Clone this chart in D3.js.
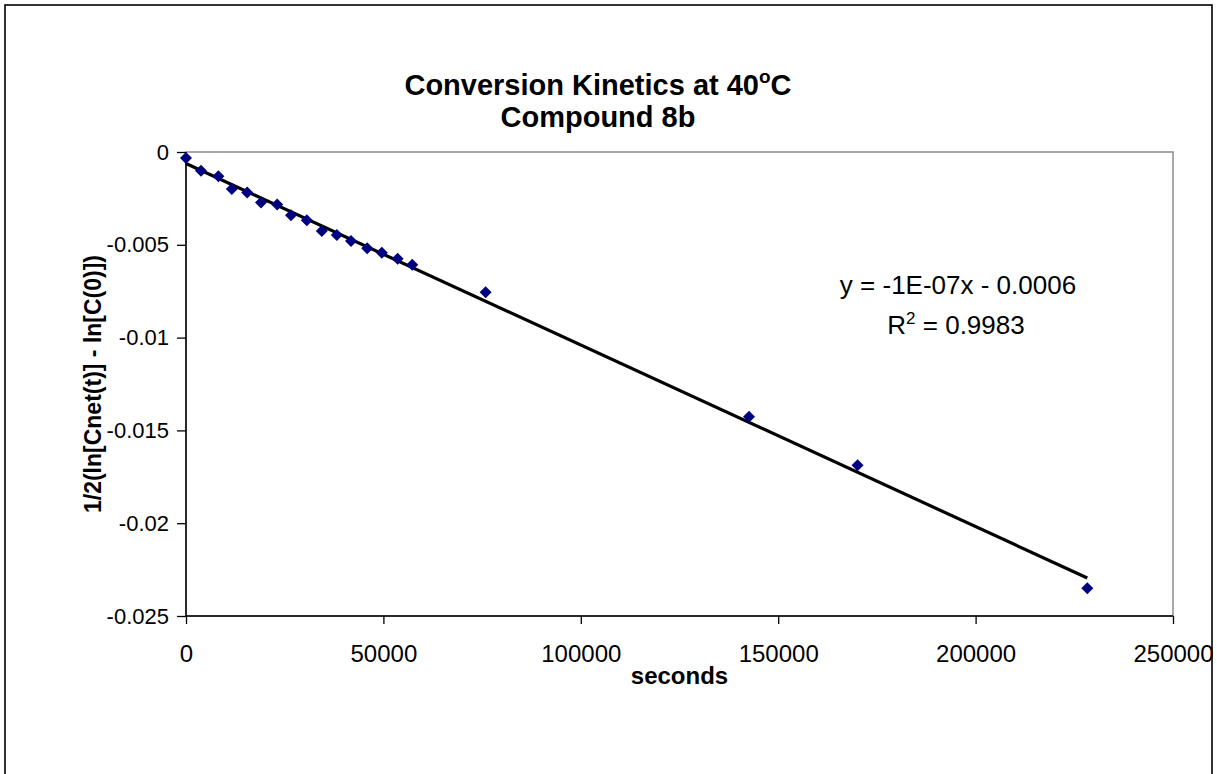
<!DOCTYPE html>
<html>
<head>
<meta charset="utf-8">
<script src="https://cdn.jsdelivr.net/npm/d3@7"></script>
<style>
  body { margin: 0; background: #fff; }
  text { font-family: "Liberation Sans", Arial, sans-serif; fill: #000; }
  .axisX .tick text { font-size: 24px; }
  .axisY .tick text { font-size: 22px; }
  .axisX path, .axisY path { display: none; }
  .tick line { stroke: #000; stroke-width: 1.3; }
</style>
</head>
<body>
<script>
var seconds = [0, 3800, 8200, 11600, 15500, 19000, 23100, 26600, 30600, 34400,
               38200, 41800, 45900, 49600, 53600, 57300, 75900, 142600, 170100, 228300];
var halfLnRatio = [-0.00033, -0.00101, -0.00131, -0.00200, -0.00218, -0.00272, -0.00283,
                   -0.00341, -0.00368, -0.00426, -0.00447, -0.00480, -0.00518, -0.00543,
                   -0.00575, -0.00608, -0.00756, -0.01427, -0.01688, -0.02350];
var xTicks = [0, 50000, 100000, 150000, 200000, 250000];
var yTicks = [0, -0.005, -0.01, -0.015, -0.02, -0.025];
var titleLines = ["Conversion Kinetics at 40", "Compound 8b"];
var equationText = "y = -1E-07x - 0.0006";
var rSquaredText = " = 0.9983";

var width = 1217,
    height = 774,
    plotLeft = 186,
    plotRight = 1173,
    plotTop = 152,
    plotBottom = 616;

var data = seconds.map(function(s, i) { return {x: s, y: halfLnRatio[i]}; });

var svg = d3.select("body").append("svg")
    .attr("width", width)
    .attr("height", height);

svg.append("rect")
    .attr("width", width).attr("height", height)
    .attr("fill", "#fff");

// chart border (runs off the bottom of the picture)
svg.append("rect")
    .attr("x", 5).attr("y", 5)
    .attr("width", 1207).attr("height", 820)
    .attr("fill", "none")
    .attr("stroke", "#000")
    .attr("stroke-width", 1.6);

var x = d3.scaleLinear().domain([0, 250000]).range([plotLeft, plotRight]);
var y = d3.scaleLinear().domain([-0.025, 0]).range([plotBottom, plotTop]);

// plot area frame
svg.append("rect")
    .attr("x", plotLeft).attr("y", plotTop)
    .attr("width", plotRight - plotLeft).attr("height", plotBottom - plotTop)
    .attr("fill", "none")
    .attr("stroke", "#8c8c8c")
    .attr("stroke-width", 1.5);

var xAxis = d3.axisBottom(x).tickValues(xTicks).tickSize(8).tickPadding(21)
    .tickFormat(d3.format("d"));
var yAxis = d3.axisLeft(y).tickValues(yTicks).tickSize(9).tickPadding(8)
    .tickFormat(function(d) { return d === 0 ? "0" : String(+d.toFixed(3)); });

svg.append("g").attr("class", "axisX")
    .attr("transform", "translate(0," + plotBottom + ")")
    .call(xAxis);
svg.append("g").attr("class", "axisY")
    .attr("transform", "translate(" + plotLeft + ",0)")
    .call(yAxis);

svg.append("line")
    .attr("x1", plotLeft).attr("x2", plotLeft)
    .attr("y1", plotTop).attr("y2", plotBottom)
    .attr("stroke", "#000").attr("stroke-width", 1.5);
svg.append("line")
    .attr("x1", plotLeft).attr("x2", plotRight)
    .attr("y1", plotBottom).attr("y2", plotBottom)
    .attr("stroke", "#000").attr("stroke-width", 1.5);

// least squares trendline over the data range
var mx = d3.mean(data, function(d) { return d.x; }),
    my = d3.mean(data, function(d) { return d.y; });
var slope = d3.sum(data, function(d) { return (d.x - mx) * (d.y - my); }) /
            d3.sum(data, function(d) { return (d.x - mx) * (d.x - mx); });
var intercept = my - slope * mx;
var xMax = d3.max(data, function(d) { return d.x; });

svg.append("line")
    .attr("x1", x(0)).attr("y1", y(intercept))
    .attr("x2", x(xMax)).attr("y2", y(intercept + slope * xMax))
    .attr("stroke", "#000")
    .attr("stroke-width", 3.2);

svg.selectAll(".pt")
    .data(data)
    .enter().append("path")
    .attr("class", "pt")
    .attr("d", d3.symbol().type(d3.symbolSquare).size(72))
    .attr("transform", function(d) {
        return "translate(" + x(d.x) + "," + y(d.y) + ") rotate(45)";
    })
    .attr("fill", "#000080");

// titles
var title = svg.append("text")
    .attr("x", 598).attr("y", 95)
    .attr("text-anchor", "middle")
    .attr("font-size", 29).attr("font-weight", "bold");
title.append("tspan").text(titleLines[0]);
title.append("tspan").attr("dy", -12).attr("font-size", 19).text("o");
title.append("tspan").attr("dy", 12).text("C");

svg.append("text")
    .attr("x", 598).attr("y", 127)
    .attr("text-anchor", "middle")
    .attr("font-size", 29).attr("font-weight", "bold")
    .text(titleLines[1]);

svg.append("text")
    .attr("x", (plotLeft + plotRight) / 2).attr("y", 684)
    .attr("text-anchor", "middle")
    .attr("font-size", 24).attr("font-weight", "bold")
    .text("seconds");

svg.append("text")
    .attr("transform", "translate(101," + (plotTop + plotBottom) / 2 + ") rotate(-90)")
    .attr("text-anchor", "middle")
    .attr("font-size", 23).attr("font-weight", "bold")
    .text("1/2(ln[Cnet(t)] - ln[C(0)])");

// trendline label
svg.append("text")
    .attr("x", 958).attr("y", 294)
    .attr("text-anchor", "middle")
    .attr("font-size", 26)
    .text(equationText);

var r2 = svg.append("text")
    .attr("x", 956).attr("y", 334)
    .attr("text-anchor", "middle")
    .attr("font-size", 26);
r2.append("tspan").text("R");
r2.append("tspan").attr("dy", -10).attr("font-size", 17).text("2");
r2.append("tspan").attr("dy", 10).text(rSquaredText);
</script>
</body>
</html>
